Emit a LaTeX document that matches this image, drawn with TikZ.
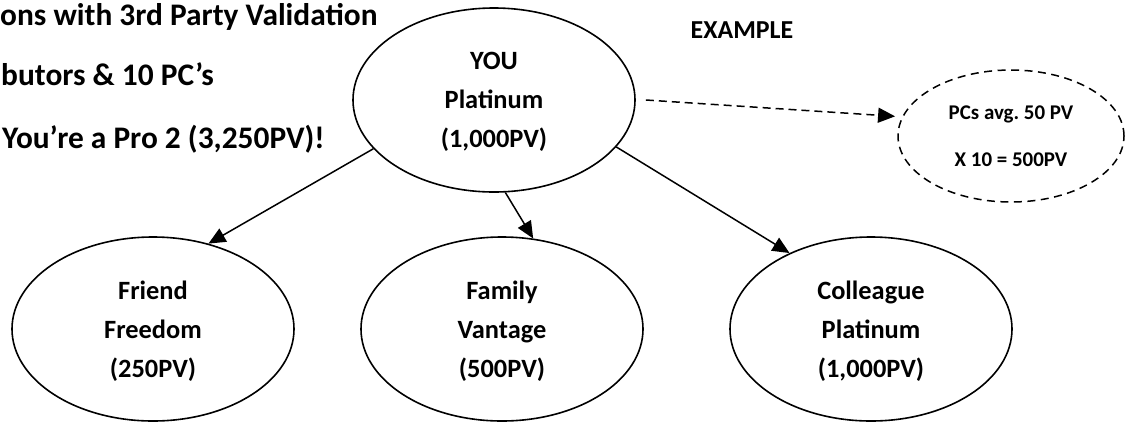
\documentclass[tikz,border=0pt]{standalone}
\usepackage{fontspec}
\setmainfont{Carlito}
\frenchspacing
\usetikzlibrary{shapes.geometric,arrows.meta}
\begin{document}
\begin{tikzpicture}[x=1bp,y=-1bp,
  bubble/.style={ellipse,draw,line width=1.6bp,inner sep=0pt,minimum width=282bp,minimum height=184bp,
    align=center,text depth=0pt,font=\fontsize{26.5}{39}\selectfont\bfseries},
  dbubble/.style={ellipse,draw,line width=1.5bp,dash pattern=on 8bp off 5.5bp,inner sep=0pt,
    minimum width=226bp,minimum height=132bp,align=center,font=\fontsize{21}{47}\selectfont\bfseries},
  arr/.style={line width=1.5bp,-{Triangle[length=17bp,width=15bp]}},
  darr/.style={line width=1.5bp,dash pattern=on 8bp off 5bp,-{Triangle[length=17bp,width=15bp]}},
  lefttext/.style={anchor=base west,inner sep=0pt,font=\fontsize{31.5}{38}\selectfont\bfseries}]
\useasboundingbox (0,0) rectangle (1131,422);
\node[lefttext] (t1) at (0,25) {ons with 3rd Party Validation};
\node[lefttext] (t2) at (1,85) {butors \& 10 PC’s};
\node[lefttext] (t3) at (2,148) {You’re a Pro 2 (3,250PV)!};
\node[anchor=base,inner sep=0pt,font=\fontsize{26}{30}\selectfont\bfseries] (ex0) at (742,38) {EXAMPLE};
\node[bubble] (you) at (494,100) {YOU\\Platinum\\(1,000PV)};
\node[bubble] (friend) at (153,329) {Friend\\Freedom\\(250PV)};
\node[bubble] (family) at (502,329) {Family\\Vantage\\(500PV)};
\node[bubble] (coll) at (871,329) {Colleague\\Platinum\\(1,000PV)};
\node[dbubble] (pcs) at (1011,136) {PCs avg. 50 PV\\X 10 = 500PV};
\draw[arr] (you.202) -- (friend.57);
\draw[arr] (you.277) -- (family.71);
\draw[arr] (you.339) -- (coll.137);
\draw[darr,shorten >=7bp] ([xshift=10bp]you.east) -- (pcs.170);
\end{tikzpicture}
\end{document}
